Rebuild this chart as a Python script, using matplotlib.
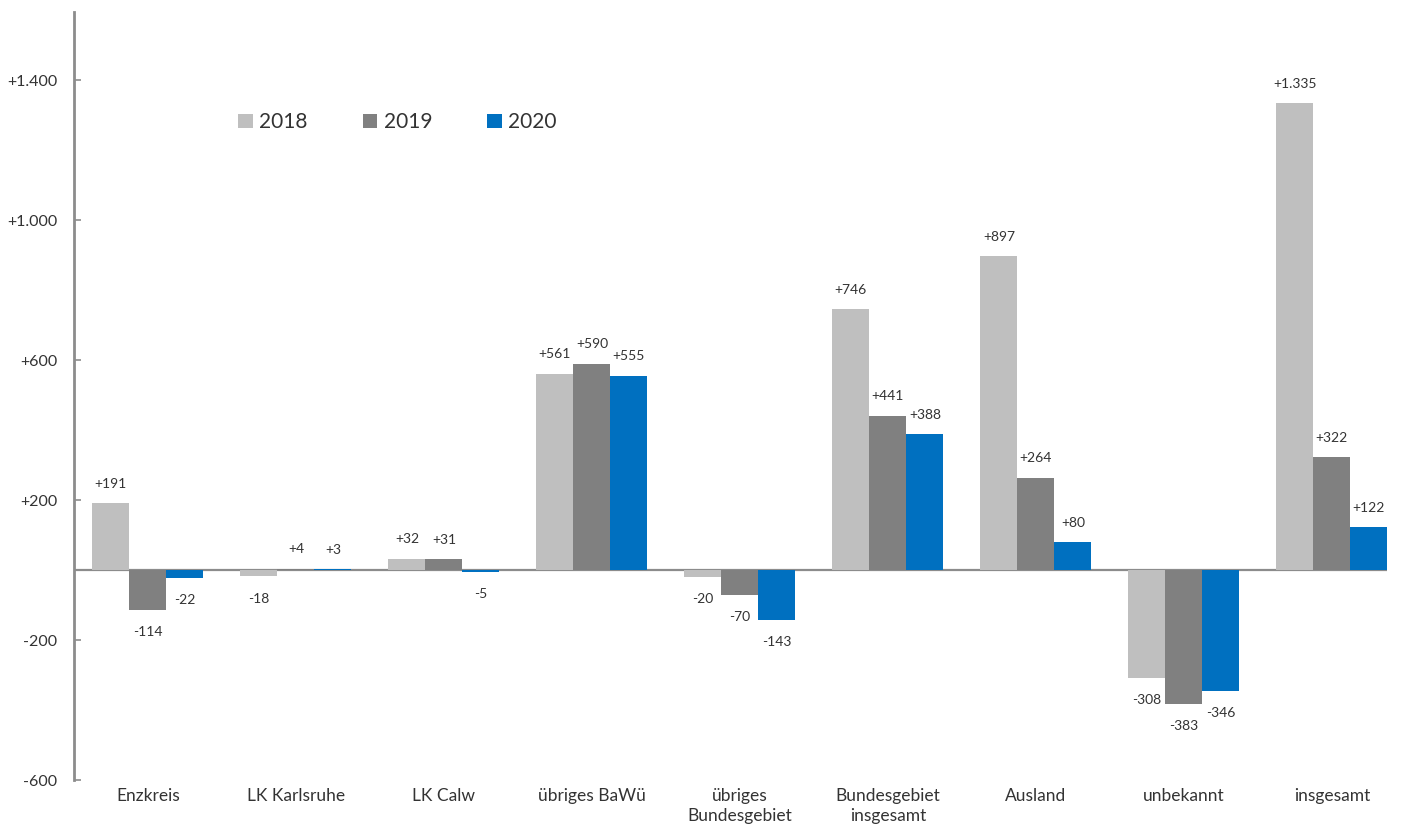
import numpy as np
import matplotlib.pyplot as plt

plt.rcParams['font.family'] = ['Lato', 'DejaVu Sans']

categories = ["Enzkreis", "LK Karlsruhe", "LK Calw", "übriges BaWü",
              "übriges\nBundesgebiet", "Bundesgebiet\ninsgesamt",
              "Ausland", "unbekannt", "insgesamt"]
years = ["2018", "2019", "2020"]
v2018 = [191, -18, 32, 561, -20, 746, 897, -308, 1335]
v2019 = [-114, 4, 31, 590, -70, 441, 264, -383, 322]
v2020 = [-22, 3, -5, 555, -143, 388, 80, -346, 122]
colors = ["#BFBFBF", "#808080", "#0070C0"]

yticks = [-600, -200, 200, 600, 1000, 1400]
ytick_labels = ["-600", "-200", "+200", "+600", "+1.000", "+1.400"]

txt = "#333333"
axis_col = "#8C8C8C"

fig = plt.figure(figsize=(14.11, 8.27), dpi=100)
ax = fig.add_axes([0.0524, 0.0568, 0.9305, 0.9287])

x = np.arange(len(categories))
w = 0.25
for i, (vals, col, yr) in enumerate(zip([v2018, v2019, v2020], colors, years)):
    pos = x + (i - 1) * w
    ax.bar(pos, vals, width=w, color=col, label=yr, linewidth=0, zorder=2)
    for px, v in zip(pos, vals):
        if v >= 0:
            lab, off = f"+{v:,}".replace(",", "."), 14
        else:
            lab, off = f"{v:,}".replace(",", "."), -16
        ax.annotate(lab, (px, v), xytext=(0, off), textcoords="offset points",
                    ha="center", va="center", fontsize=10, color=txt)

ax.axhline(0, color=axis_col, linewidth=1.6, zorder=1.5)

ax.set_xlim(-0.5, 8.372)
ax.set_ylim(-600, 1595)
ax.set_yticks(yticks)
ax.set_yticklabels(ytick_labels)
ax.set_xticks(x)
ax.set_xticklabels(categories, linespacing=1.25)

ax.tick_params(axis="y", direction="in", length=5, width=1.2, color=axis_col,
               pad=12, labelsize=11.5, labelcolor=txt)
ax.tick_params(axis="x", length=0, pad=6, labelsize=12.5, labelcolor=txt)

for s in ["top", "right", "bottom"]:
    ax.spines[s].set_visible(False)
ax.spines["left"].set_color(axis_col)
ax.spines["left"].set_linewidth(2)

leg = ax.legend(loc="center left", bbox_to_anchor=(0.169, 0.852), bbox_transform=fig.transFigure,
                ncol=3, frameon=False, borderpad=0, borderaxespad=0,
                fontsize=15, handlelength=0.7, handleheight=0.7, handletextpad=0.3,
                columnspacing=2.65)
for t in leg.get_texts():
    t.set_color(txt)

fig.savefig("out.png", dpi=100)
